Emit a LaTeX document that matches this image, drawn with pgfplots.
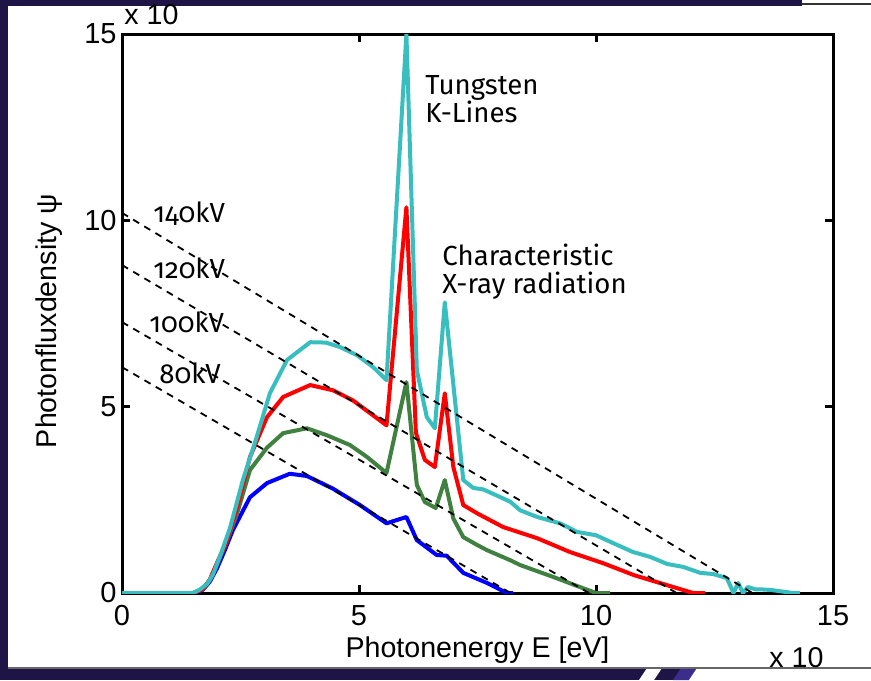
\documentclass[border=0pt]{standalone}
\usepackage{pgfplots}
\pgfplotsset{compat=1.18}
\usepackage{fontspec}
\setmainfont{Liberation Sans}
\newfontfamily\annfont[Numbers=OldStyle]{Fira Sans}

\definecolor{slidebg}{RGB}{30,20,70}
\definecolor{slash}{RGB}{60,44,140}
\definecolor{c80}{RGB}{0,0,255}
\definecolor{c100}{RGB}{64,128,64}
\definecolor{c120}{RGB}{255,0,0}
\definecolor{c140}{RGB}{56,190,190}

\begin{document}
\begin{tikzpicture}
% slide frame, 1 unit = 1 px of the reference
\begin{scope}[x=0.5pt,y=-0.5pt]
\useasboundingbox (0,0) rectangle (871,680);
\fill[slidebg] (0,0) rectangle (871,680);
\fill[white] (8,6) rectangle (871,668);
\fill[white] (802,0) rectangle (871,6);
\draw[black!80, line width=0.8pt] (802,4) -- (871,4);
\fill[white] (639,680) -- (647,668) -- (662,668) -- (654,680) -- cycle;
\fill[slash] (673,680) -- (681,668) -- (697,668) -- (689,680) -- cycle;
\fill[white] (689,680) -- (697,668) -- (871,668) -- (871,680) -- cycle;
\draw[black!60, line width=0.6pt] (8,668) -- (871,668);
\end{scope}

\begin{axis}[
    scale only axis,
    width=355.5pt, height=279.5pt,
    at={(61pt,-296.5pt)}, anchor=south west,
    xmin=0, xmax=15, ymin=0, ymax=15,
    xtick={0,5,10,15}, ytick={0,5,10,15},
    tick align=inside,
    major tick length=4pt,
    axis line style={line width=1.5pt},
    every tick/.style={black, line width=1.5pt},
    ticklabel style={font=\fontsize{14.5}{17}\selectfont},
    /pgf/number format/assume math mode=true,
    yticklabel style={inner sep=2.5pt},
    xticklabel style={inner sep=0pt, yshift=-6pt},
    every axis plot/.append style={line join=round},
]

% 80 kV
\addplot[c80, line width=2pt, mark=none] coordinates {
(0,0)(1.5,0)(1.7,0.08)(1.85,0.3)(2.0,0.65)(2.17,1.15)(2.34,1.69)(2.7,2.57)
(3.06,2.95)(3.54,3.2)(3.9,3.14)(4.45,2.8)(5.02,2.36)(5.58,1.87)(6.0,2.04)
(6.22,1.42)(6.64,1.02)(6.85,1.0)(7.2,0.54)(7.7,0.27)(8.12,0)(8.25,0)
};
% 100 kV
\addplot[c100, line width=2pt, mark=none] coordinates {
(0,0)(1.5,0)(1.7,0.1)(1.85,0.35)(2.0,0.75)(2.2,1.35)(2.42,2.1)(2.7,3.3)
(3.06,3.9)(3.4,4.29)(3.9,4.42)(4.33,4.23)(4.81,3.97)(5.17,3.65)(5.58,3.22)
(6.0,5.66)(6.22,2.9)(6.39,2.44)(6.62,2.28)(6.81,3.03)(6.99,2.0)(7.2,1.5)
(7.49,1.29)(7.7,1.15)(8.19,0.88)(8.4,0.75)(9.1,0.43)(9.66,0.16)(10.0,0)(10.3,0)
};
% 120 kV
\addplot[c120, line width=2pt, mark=none] coordinates {
(0,0)(1.5,0)(1.7,0.1)(1.85,0.35)(2.0,0.8)(2.2,1.35)(2.43,2.3)(2.7,3.65)
(3.06,4.72)(3.4,5.26)(3.97,5.58)(4.45,5.44)(4.87,5.17)(5.23,4.83)(5.58,4.5)
(6.0,10.35)(6.2,4.3)(6.39,3.57)(6.6,3.38)(6.81,5.36)(6.99,3.38)(7.2,2.36)
(7.49,2.14)(8.04,1.77)(8.76,1.47)(9.45,1.1)(10.15,0.8)(10.8,0.48)(11.5,0.21)
(12.05,0)(12.3,0)
};
% 140 kV
\addplot[c140, line width=2pt, mark=none] coordinates {
(0,0)(1.5,0)(1.65,0.1)(1.8,0.25)(1.92,0.5)(2.1,1.1)(2.28,1.75)(2.55,3.03)
(2.84,4.18)(3.12,5.36)(3.48,6.25)(3.97,6.73)(4.3,6.72)(4.6,6.6)(4.96,6.38)
(5.3,6.06)(5.58,5.71)(6.0,15)(6.22,5.98)(6.43,4.72)(6.6,4.42)(6.81,7.8)
(7.2,3.03)(7.41,2.82)(7.62,2.78)(7.9,2.62)(8.19,2.45)(8.4,2.22)(8.76,2.04)
(9.24,1.87)(9.6,1.64)(10.0,1.55)(10.36,1.34)(10.78,1.1)(11.14,0.97)(11.5,0.78)
(11.84,0.7)(12.2,0.54)(12.47,0.51)(12.76,0.4)(12.9,0)(13.0,0.27)(13.1,0)
(13.2,0.16)(13.36,0.1)(13.46,0.1)(13.7,0.08)(14.16,0)(14.3,0)
};

% Kramers lines
\addplot[black, line width=0.9pt, dash pattern=on 3.5pt off 3pt, mark=none] coordinates {(0,10.2)(13.3,0)};
\addplot[black, line width=0.9pt, dash pattern=on 3.5pt off 3pt, mark=none] coordinates {(0,8.8)(11.7,0)};
\addplot[black, line width=0.9pt, dash pattern=on 3.5pt off 3pt, mark=none] coordinates {(0,7.27)(9.85,0)};
\addplot[black, line width=0.9pt, dash pattern=on 3.5pt off 3pt, mark=none] coordinates {(0,6.06)(8.2,0)};
\end{axis}

\begin{scope}[x=0.5pt,y=-0.5pt, every node/.style={inner sep=0pt, font=\fontsize{14.3}{17}\selectfont}]
\node[anchor=base, rotate=90] at (56,321) {Photonfluxdensity ψ};
\node[anchor=base] at (477.5,657) {Photonenergy E [eV]};
\node[anchor=base west] at (124,25) {x 10};
\node[anchor=base west] at (769,667) {x 10};
\begin{scope}[every node/.append style={font=\annfont\fontsize{13.8}{16}\selectfont}]
\node[anchor=base west] at (425,94) {Tungsten};
\node[anchor=base west] at (425,122) {K-Lines};
\node[anchor=base west] at (442,265) {Characteristic};
\node[anchor=base west] at (442,293) {X-ray radiation};
\node[anchor=base west] at (153,222) {140kV};
\node[anchor=base west] at (153,278) {120kV};
\node[anchor=base west] at (149,332) {100kV};
\node[anchor=base west] at (159,383) {80kV};
\end{scope}
\end{scope}
\end{tikzpicture}
\end{document}
